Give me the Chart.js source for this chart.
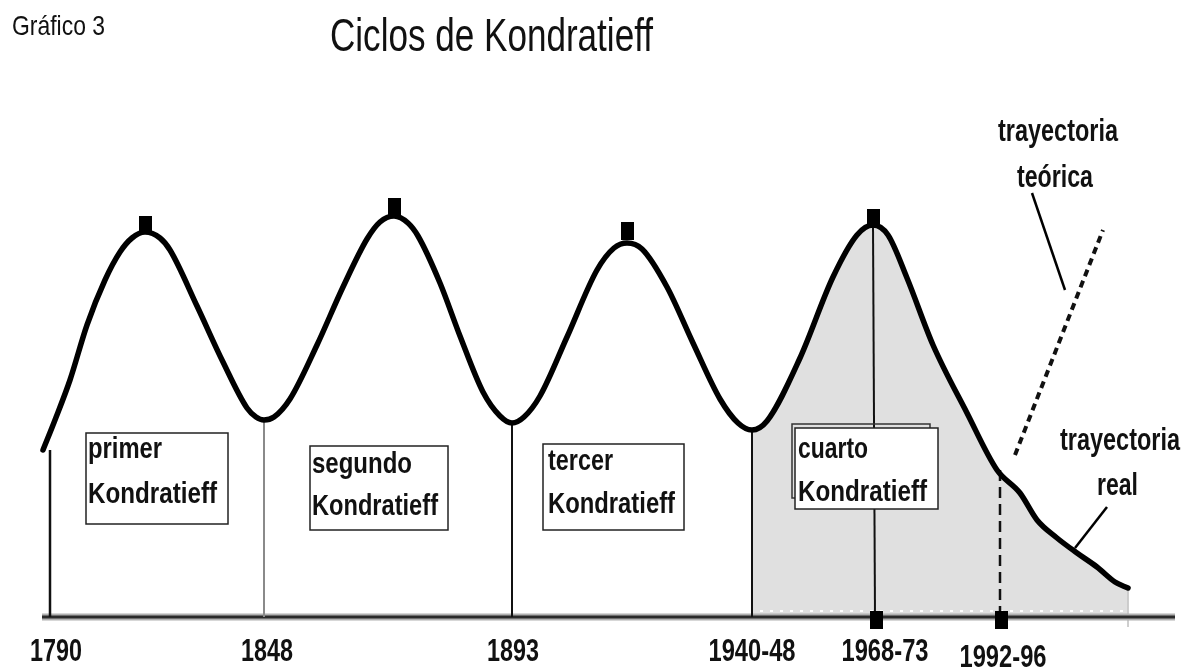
<!DOCTYPE html>
<html><head><meta charset="utf-8">
<script src="https://cdn.jsdelivr.net/npm/chart.js@4.4.1/dist/chart.umd.min.js"></script>
<style>html,body{margin:0;padding:0;background:#fff}#wrap{width:1189px;height:669px;position:relative}</style>
</head><body><div id="wrap"><canvas id="c"></canvas></div>
<script>
// Schematic long-wave: horizontal = schematic time position, vertical = activity level
const waveX = [43,55,70,87,105,120,132,145, 160,170,197,223,247,256,264, 274,290,317,343,367,380,394, 408,418,440,460,483,500,512, 524,540,567,597,614,627, 642,667,693,720,738,752, 767,800,833,857,873, 888,907,933,967,997];
const waveY = [165,195,235,290,335,363,377,383, 377,365,309,253,207,198,195, 198,216,270,328,376,393,399, 392,379,332,279,223,199,192, 198,219,278,345,367,372, 366,328,272,216,192,185, 194,257,338,380,390, 380,337,270,202,145];
// real trajectory after 1992-96
const realX = [997,1020,1037,1057,1077,1097,1115,1128];
const realY = [145,122,95,77,62,48,33,27];
// theoretical trajectory
const theoX = [1015,1058,1103];
const theoY = [160,270,385];
// cycle boundaries (troughs)
const boundX = [50,264,512,752];
const boundTop = [165,195,192,185];
// peaks (markers)
const peakX = [145,394,627,873];
const peakMark = [390,408,384,397];
const peak4Top = 390;
// 1992-96 turning point
const turnX = 1000;
const turnTop = 145;
// bottom markers
const bottomX = [876,1001];
const bottomY = [-5,-5];
// tick labels
const tickLabels = ['1790','1848','1893','1940-48','1968-73','1992-96'];
const tickX = [56,267,513,752,885,1003];
// pointer lines
const teoPtrX = [1032,1065], teoPtrY = [422,325];
const realPtrX = [1107,1075], realPtrY = [108,67];
// axis
const axisX = [42,1175], axisY = [-2,-2];

const pts = (xs, ys) => xs.map((x, i) => ({x: x, y: ys[i]}));
const mainCurve = pts(waveX, waveY).concat(pts(realX.slice(1), realY.slice(1)));
const shaded = mainCurve.filter(p => p.x >= boundX[3]);

function rectImg(w, h) {
  const c = document.createElement('canvas'); c.width = w; c.height = h;
  const g = c.getContext('2d'); g.fillStyle = '#000'; g.fillRect(0, 0, w, h); return c;
}
const topMark = rectImg(13, 18), botMark = rectImg(13, 18);

const base = {showLine: true, pointRadius: 0, fill: false, clip: false, cubicInterpolationMode: 'default', tension: 0};
const datasets = [];
datasets.push(Object.assign({}, base, {data: shaded, fill: 'origin', backgroundColor: '#e0e0e0', borderWidth: 0, borderColor: 'rgba(0,0,0,0)', cubicInterpolationMode: 'monotone', order: 20}));
datasets.push(Object.assign({}, base, {data: [{x: shaded[shaded.length-1].x, y: shaded[shaded.length-1].y}, {x: shaded[shaded.length-1].x, y: -12}], borderColor: '#c8c8c8', borderWidth: 1, order: 19}));
datasets.push(Object.assign({}, base, {data: [{x: boundX[3] + 8, y: 4}, {x: realX[realX.length-1], y: 4}], borderColor: '#ffffff', borderWidth: 2, borderDash: [3, 7], order: 18}));
datasets.push(Object.assign({}, base, {data: pts(axisX, axisY), borderColor: '#b0b0b0', borderWidth: 7, order: 17}));
datasets.push(Object.assign({}, base, {data: pts(axisX, axisY), borderColor: '#2a2a2a', borderWidth: 3, order: 16}));
boundX.forEach((x, i) => {
  datasets.push(Object.assign({}, base, {data: [{x: x, y: boundTop[i]}, {x: x, y: -2}], borderColor: i === 1 ? '#8a8a8a' : '#111', borderWidth: i === 0 ? 2.5 : 2, order: 10}));
});
datasets.push(Object.assign({}, base, {data: [{x: peakX[3], y: peak4Top}, {x: peakX[3] + 2, y: -2}], borderColor: '#111', borderWidth: 2, order: 10}));
datasets.push(Object.assign({}, base, {data: [{x: turnX, y: turnTop}, {x: turnX, y: -2}], borderColor: '#111', borderWidth: 2.5, borderDash: [11, 6], order: 10}));
datasets.push(Object.assign({}, base, {data: mainCurve, borderColor: '#000', borderWidth: 5.5, cubicInterpolationMode: 'monotone', borderCapStyle: 'round', borderJoinStyle: 'round', order: 5}));
datasets.push(Object.assign({}, base, {data: pts(theoX, theoY), borderColor: '#111', borderWidth: 4, borderDash: [7, 5], order: 5}));
datasets.push(Object.assign({}, base, {data: pts(teoPtrX, teoPtrY), borderColor: '#000', borderWidth: 2.5, order: 5}));
datasets.push(Object.assign({}, base, {data: pts(realPtrX, realPtrY), borderColor: '#000', borderWidth: 2.5, order: 5}));
datasets.push({data: pts(peakX, peakMark), showLine: false, pointStyle: topMark, pointRadius: 6, clip: false, order: 1});
datasets.push({data: pts(bottomX, bottomY), showLine: false, pointStyle: botMark, pointRadius: 6, clip: false, order: 1});

const FONT = '"Liberation Sans", Arial, Helvetica, sans-serif';
function txt(ctx, s, x, y, size, weight, maxW, align) {
  ctx.font = weight + ' ' + size + 'px ' + FONT;
  ctx.textAlign = align || 'left';
  ctx.textBaseline = 'alphabetic';
  ctx.fillStyle = '#111';
  const w = ctx.measureText(s).width;
  if (w > maxW) ctx.fillText(s, x, y, maxW); else ctx.fillText(s, x, y);
}
const boxes = [
  {x: 86, y: 433, w: 142, h: 91, l1: 'primer', b1: 458, w1: 74, b2: 503, w2: 129, tx: 88},
  {x: 310, y: 446, w: 138, h: 84, l1: 'segundo', b1: 473, w1: 100, b2: 515, w2: 126, tx: 312},
  {x: 543, y: 444, w: 141, h: 86, l1: 'tercer', b1: 470, w1: 65, b2: 513, w2: 127, tx: 548},
  {x: 795, y: 428, w: 143, h: 81, l1: 'cuarto', b1: 458, w1: 70, b2: 501, w2: 129, tx: 798, back: true}
];
const decor = {
  id: 'decor',
  beforeDraw(chart) {
    const ctx = chart.ctx; ctx.save(); ctx.fillStyle = '#fff'; ctx.fillRect(0, 0, chart.width, chart.height); ctx.restore();
  },
  afterDatasetsDraw(chart) {
    const ctx = chart.ctx; const xs = chart.scales.x;
    ctx.save();
    boxes.forEach(b => {
      if (b.back) {
        ctx.strokeStyle = '#333'; ctx.lineWidth = 1.5;
        ctx.strokeRect(b.x - 3, b.y - 4, b.w - 5, b.h - 7);
      }
      ctx.fillStyle = '#fff'; ctx.fillRect(b.x, b.y, b.w, b.h);
      ctx.strokeStyle = '#222'; ctx.lineWidth = 1.5; ctx.strokeRect(b.x, b.y, b.w, b.h);
      txt(ctx, b.l1, b.tx, b.b1, 30, 'bold', b.w1);
      txt(ctx, 'Kondratieff', b.tx, b.b2, 30, 'bold', b.w2);
    });
    txt(ctx, 'Gráfico 3', 12, 35, 28, 'normal', 93);
    txt(ctx, 'Ciclos de Kondratieff', 330, 51, 46, 'normal', 323);
    txt(ctx, 'trayectoria', 998, 141, 31, 'bold', 120);
    txt(ctx, 'teórica', 1017, 187, 31, 'bold', 76);
    txt(ctx, 'trayectoria', 1060, 450, 31, 'bold', 120);
    txt(ctx, 'real', 1097, 495, 31, 'bold', 41);
    tickLabels.forEach((t, i) => {
      const px = xs.getPixelForValue(tickX[i]);
      const last = i === tickLabels.length - 1;
      txt(ctx, t, px, last ? 667 : 661, 32, 'bold', t.length > 4 ? 87 : 52, 'center');
    });
    ctx.restore();
  }
};

new Chart(document.getElementById('c'), {
  type: 'line',
  data: {datasets: datasets},
  options: {
    responsive: true, maintainAspectRatio: false, animation: false,
    layout: {padding: 0, autoPadding: false},
    plugins: {legend: {display: false}, tooltip: {enabled: false}, title: {display: false}},
    scales: {
      x: {type: 'linear', min: 0, max: 1189, display: false},
      y: {type: 'linear', min: -54, max: 615, display: false}
    }
  },
  plugins: [decor]
});
</script></body></html>
